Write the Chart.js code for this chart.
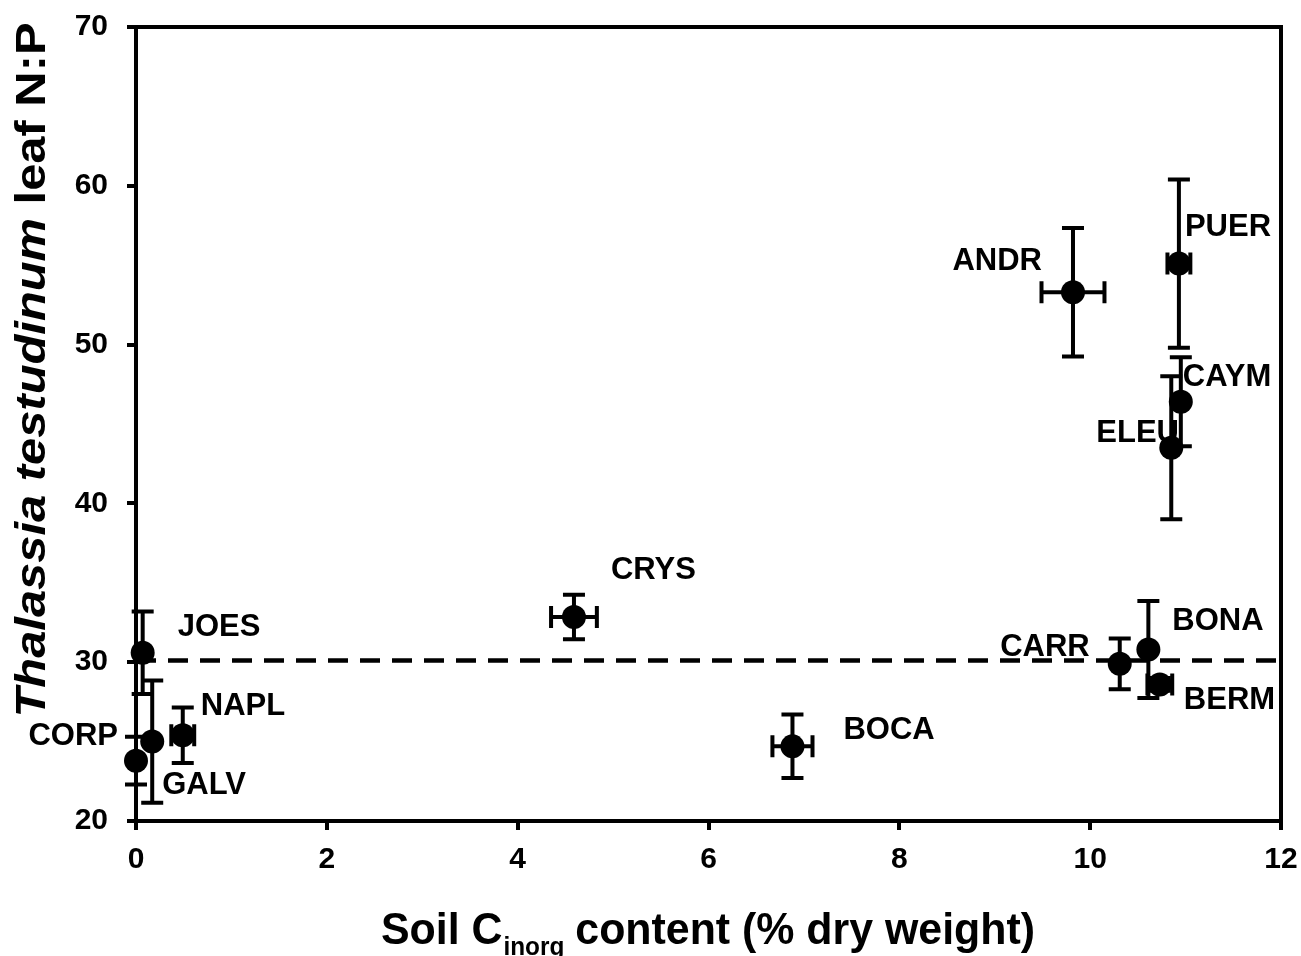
<!DOCTYPE html>
<html>
<head>
<meta charset="utf-8">
<script src="https://cdn.jsdelivr.net/npm/chart.js@4.4.0/dist/chart.umd.min.js"></script>
<style>
  html, body { margin: 0; padding: 0; background: #fff; }
  canvas { display: block; }
</style>
</head>
<body>
<canvas id="chart" width="1301" height="956"></canvas>
<script>
// --- DATA ---
const sites = ['CORP', 'JOES', 'GALV', 'NAPL', 'CRYS', 'BOCA', 'ANDR', 'PUER', 'CAYM', 'ELEU', 'CARR', 'BONA', 'BERM'];
const soilC = [0.0, 0.07, 0.17, 0.49, 4.59, 6.88, 9.82, 10.93, 10.95, 10.85, 10.31, 10.61, 10.73];
const soilCErr = [0, 0, 0, 0.12, 0.24, 0.21, 0.33, 0.12, 0, 0, 0, 0, 0.13];
const leafNP = [23.8, 30.6, 25.0, 25.4, 32.85, 24.7, 53.3, 55.1, 46.4, 43.5, 29.9, 30.8, 28.6];
const leafNPErr = [1.5, 2.6, 3.85, 1.75, 1.4, 2.0, 4.05, 5.3, 2.8, 4.5, 1.6, 3.05, 0.4];
const thresholdNP = 30.1;
const xTicks = [0, 2, 4, 6, 8, 10, 12];
const yTicks = [20, 30, 40, 50, 60, 70];

// label placement relative to the marker (px), align
const labelPlace = {
  CORP: [-18, -24, 'right'], JOES: [35, -25, 'left'], GALV: [10, 44, 'left'],
  NAPL: [18, -29, 'left'], CRYS: [37, -46, 'left'], BOCA: [51, -16, 'left'],
  ANDR: [-31, -31, 'right'], PUER: [6, -36, 'left'], CAYM: [2, -24, 'left'],
  ELEU: [-75, -14, 'left'], CARR: [-30, -16, 'right'], BONA: [24, -28, 'left'],
  BERM: [24, 16, 'left']
};

const FONT = "'Liberation Sans', Arial, Helvetica, sans-serif";

// --- PLUGINS ---
const errorBars = {
  id: 'errorBars',
  beforeDatasetsDraw(chart) {
    const { ctx, scales: { x, y } } = chart;
    ctx.save();
    // site labels, under the markers
    ctx.fillStyle = '#000';
    ctx.font = `bold 31px ${FONT}`;
    ctx.textBaseline = 'middle';
    sites.forEach((s, i) => {
      const p = labelPlace[s];
      ctx.textAlign = p[2];
      ctx.fillText(s, x.getPixelForValue(soilC[i]) + p[0], y.getPixelForValue(leafNP[i]) + p[1]);
    });
    ctx.strokeStyle = '#000';
    ctx.lineWidth = 4;
    const cap = 11;
    sites.forEach((s, i) => {
      const px = x.getPixelForValue(soilC[i]);
      const py = y.getPixelForValue(leafNP[i]);
      if (leafNPErr[i] > 0) {
        const t = y.getPixelForValue(leafNP[i] + leafNPErr[i]);
        const b = y.getPixelForValue(leafNP[i] - leafNPErr[i]);
        ctx.beginPath();
        ctx.moveTo(px, t); ctx.lineTo(px, b);
        ctx.moveTo(px - cap, t); ctx.lineTo(px + cap, t);
        ctx.moveTo(px - cap, b); ctx.lineTo(px + cap, b);
        ctx.stroke();
      }
      if (soilCErr[i] > 0) {
        const l = x.getPixelForValue(soilC[i] - soilCErr[i]);
        const r = x.getPixelForValue(soilC[i] + soilCErr[i]);
        ctx.beginPath();
        ctx.moveTo(l, py); ctx.lineTo(r, py);
        ctx.moveTo(l, py - cap); ctx.lineTo(l, py + cap);
        ctx.moveTo(r, py - cap); ctx.lineTo(r, py + cap);
        ctx.stroke();
      }
    });
    ctx.restore();
  }
};

const frameAndTitles = {
  id: 'frameAndTitles',
  afterDraw(chart) {
    const { ctx, chartArea: a } = chart;
    ctx.save();
    ctx.strokeStyle = '#000';
    ctx.lineWidth = 4;
    ctx.beginPath();
    ctx.moveTo(a.left, a.top); ctx.lineTo(a.right, a.top); ctx.lineTo(a.right, a.bottom);
    ctx.stroke();

    ctx.fillStyle = '#000';
    ctx.textBaseline = 'alphabetic';
    ctx.textAlign = 'left';

    // y title
    const fi = `italic bold 42px ${FONT}`, fb = `bold 42px ${FONT}`;
    const p1 = 'Thalassia testudinum', p2 = ' leaf N:P';
    ctx.font = fi; const w1 = ctx.measureText(p1).width;
    ctx.font = fb; const w2 = ctx.measureText(p2).width;
    const ySpan = 695, sy = ySpan / (w1 + w2);
    ctx.save();
    ctx.translate(45, 370);
    ctx.rotate(-Math.PI / 2);
    ctx.scale(sy, 1);
    const y0 = -(w1 + w2) / 2;
    ctx.font = fi; ctx.fillText(p1, y0, 0);
    ctx.font = fb; ctx.fillText(p2, y0 + w1, 0);
    ctx.restore();

    // x title with subscript
    const fm = `bold 44px ${FONT}`, fs = `bold 25px ${FONT}`;
    const q1 = 'Soil C', q2 = 'inorg', q3 = ' content (% dry weight)';
    ctx.font = fm; const v1 = ctx.measureText(q1).width, v3 = ctx.measureText(q3).width;
    ctx.font = fs; const v2 = ctx.measureText(q2).width;
    const sx = 654 / (v1 + v2 + v3);
    ctx.save();
    ctx.translate(381, 944);
    ctx.scale(sx, 1);
    ctx.font = fm; ctx.fillText(q1, 0, 0);
    ctx.font = fs; ctx.fillText(q2, v1 + 1, 11);
    ctx.font = fm; ctx.fillText(q3, v1 + v2, 0);
    ctx.restore();
    ctx.restore();
  }
};

// --- CHART ---
const axisCommon = {
  type: 'linear',
  grid: { display: true, drawOnChartArea: false, drawTicks: true, tickLength: 9, lineWidth: 4, color: '#000' },
  border: { display: true, width: 4, color: '#000' },
};

new Chart(document.getElementById('chart').getContext('2d'), {
  type: 'scatter',
  data: {
    datasets: [
      {
        type: 'line', label: 'threshold',
        data: [{ x: xTicks[0], y: thresholdNP }, { x: xTicks[xTicks.length - 1], y: thresholdNP }],
        borderColor: '#000', borderWidth: 4.5, borderDash: [20, 12], pointRadius: 0, fill: false
      },
      {
        label: 'sites',
        data: sites.map((s, i) => ({ x: soilC[i], y: leafNP[i] })),
        backgroundColor: '#000', borderColor: '#000', pointRadius: 12, pointHoverRadius: 12, borderWidth: 0,
        clip: false
      }
    ]
  },
  options: {
    responsive: false,
    devicePixelRatio: 1,
    animation: false,
    layout: { padding: { left: 0, top: 27, right: 20, bottom: 0 } },
    plugins: { legend: { display: false }, tooltip: { enabled: false } },
    scales: {
      x: {
        ...axisCommon,
        min: xTicks[0], max: xTicks[xTicks.length - 1],
        afterBuildTicks: s => { s.ticks = xTicks.map(v => ({ value: v })); },
        afterFit: s => { s.height = 135; s.paddingLeft = 0; s.paddingRight = 0; },
        ticks: { color: '#000', font: { family: FONT, size: 30, weight: 'bold' }, padding: 12, maxRotation: 0 }
      },
      y: {
        ...axisCommon,
        min: yTicks[0], max: yTicks[yTicks.length - 1],
        afterBuildTicks: s => { s.ticks = yTicks.map(v => ({ value: v })); },
        afterFit: s => { s.width = 136; s.paddingTop = 0; s.paddingBottom = 0; },
        ticks: { color: '#000', font: { family: FONT, size: 30, weight: 'bold' }, padding: 19 }
      }
    }
  },
  plugins: [errorBars, frameAndTitles]
});
</script>
</body>
</html>
